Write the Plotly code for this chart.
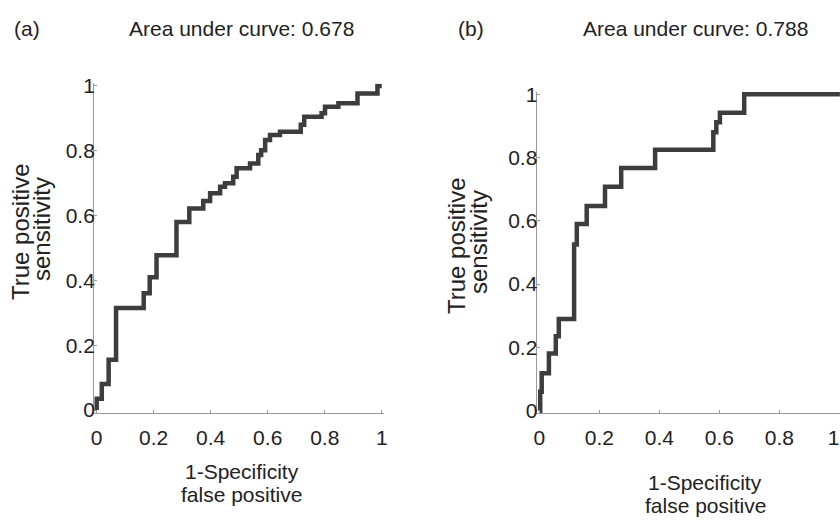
import plotly.graph_objects as go

# ROC curve (a): 1-specificity vs sensitivity (step vertices)
fpr_a = [0.000, 0.000, 0.018, 0.042, 0.068, 0.165, 0.186, 0.210, 0.280, 0.325,
         0.374, 0.398, 0.433, 0.450, 0.479, 0.491, 0.538, 0.567, 0.577, 0.591,
         0.608, 0.643, 0.716, 0.728, 0.789, 0.801, 0.848, 0.915, 0.985, 1.000]
tpr_a = [0.000, 0.035, 0.080, 0.155, 0.315, 0.360, 0.410, 0.478, 0.580, 0.622,
         0.645, 0.669, 0.689, 0.700, 0.720, 0.746, 0.761, 0.787, 0.802, 0.833,
         0.849, 0.859, 0.880, 0.905, 0.916, 0.936, 0.947, 0.977, 1.000, 1.000]

# ROC curve (b)
fpr_b = [0.000, 0.003, 0.008, 0.032, 0.055, 0.065, 0.116, 0.125, 0.158, 0.219,
         0.273, 0.386, 0.580, 0.590, 0.602, 0.683, 1.002]
tpr_b = [0.000, 0.060, 0.118, 0.181, 0.235, 0.290, 0.525, 0.590, 0.647, 0.708,
         0.767, 0.825, 0.880, 0.912, 0.942, 1.000, 1.000]

auc_a = 0.678
auc_b = 0.788
tick_vals = [0, 0.2, 0.4, 0.6, 0.8, 1]
tick_text = ["0", "0.2", "0.4", "0.6", "0.8", "1"]
# last label of panel (b) sits at the page edge; pad it so it stays visible
tick_text_b = ["0", "0.2", "0.4", "0.6", "0.8", "1\u00a0\u00a0"]

W, H = 840, 524
FONT = "Liberation Sans, Arial, Helvetica, sans-serif"
TXT = "#222222"
LINE = "#3d3d3d"

fig = go.Figure()
fig.add_trace(go.Scatter(x=fpr_a, y=tpr_a, mode="lines", line_shape="hv",
                         line=dict(color=LINE, width=4.5), xaxis="x", yaxis="y",
                         showlegend=False, hoverinfo="skip"))
fig.add_trace(go.Scatter(x=fpr_b, y=tpr_b, mode="lines", line_shape="hv",
                         line=dict(color=LINE, width=4.5), xaxis="x2", yaxis="y2",
                         showlegend=False, hoverinfo="skip"))

def px(xp):
    return xp / W

def py(yp):
    return 1 - yp / H

axis_common = dict(showgrid=False, zeroline=False, showline=True,
                   linecolor="#9a9a9a", linewidth=1, ticks="inside", ticklen=3,
                   tickcolor="#9a9a9a", tickvals=tick_vals,
                   tickfont=dict(family=FONT, size=21, color=TXT),
                   ticklabeloverflow="allow",
                   fixedrange=True, automargin=False)

fig.update_layout(
    width=W, height=H,
    margin=dict(l=0, r=0, t=0, b=0),
    paper_bgcolor="white", plot_bgcolor="white",
    xaxis=dict(domain=[px(94.1), px(384.3)], range=[-0.009, 1.009],
               anchor="y", ticklabelstandoff=6, ticktext=tick_text, **axis_common),
    yaxis=dict(domain=[py(412.6), py(83.4)], range=[-0.008, 1.008],
               anchor="x", ticklabelstandoff=-6, ticktext=tick_text, **axis_common),
    xaxis2=dict(domain=[px(536.6), 1.0], range=[-0.009, 1.0023],
                anchor="y2", ticklabelstandoff=6, ticktext=tick_text_b, **axis_common),
    yaxis2=dict(domain=[py(413.2), py(91.8)], range=[-0.008, 1.008],
                anchor="x2", ticklabelstandoff=-6, ticktext=tick_text, **axis_common),
)

def ann(text, x, y, size, xanchor="center", angle=0):
    fig.add_annotation(text=text, x=px(x), y=py(y), xref="paper", yref="paper",
                       xanchor=xanchor, yanchor="middle", showarrow=False,
                       textangle=angle,
                       font=dict(family=FONT, size=size, color=TXT))

# panel labels and titles
ann("(a)", 12, 29, 21, xanchor="left")
ann(f"Area under curve: {auc_a:.3f}", 241.5, 29, 21)
ann("(b)", 456, 29, 21, xanchor="left")
ann(f"Area under curve: {auc_b:.3f}", 695.5, 29, 21)

# y-axis titles
ann("True positive", 20, 232, 24, angle=-90)
ann("sensitivity", 41, 229, 24, angle=-90)
ann("True positive", 456, 245, 24, angle=-90)
ann("sensitivity", 478, 242, 24, angle=-90)

# x-axis titles
ann("1-Specificity", 242, 471, 21)
ann("false positive", 242, 494, 21)
ann("1-Specificity", 705, 482, 21)
ann("false positive", 705, 505, 21)

# remove the default page margin so the figure fills the 840x524 window
fig.write_html("out.html",
               config={"displayModeBar": False, "staticPlot": True},
               post_script="document.body.style.margin='0';")
